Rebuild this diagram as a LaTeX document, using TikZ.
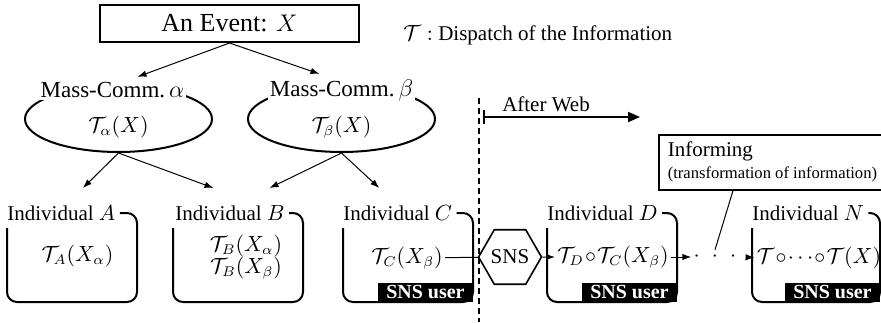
\documentclass[tikz,border=0pt]{standalone}
\usepackage[no-math]{fontspec}
\setmainfont{Liberation Serif}
\usepackage{amsmath,amssymb}
\usetikzlibrary{positioning,arrows.meta,shapes.geometric}

\newcommand{\tcirc}{\mkern1mu{\circ}\mkern1mu}

\tikzset{
  eventbox/.style={draw, line width=1pt, minimum width=129.5pt, minimum height=18.5pt, font=\fontsize{13}{15}\selectfont},
  massc/.style={draw, ellipse, line width=1pt, minimum width=93.5pt, minimum height=33pt, inner sep=0pt},
  masslab/.style={fill=white, inner sep=1pt, yshift=-2.5pt, font=\fontsize{11.5}{13}\selectfont},
  indlab/.style={inner sep=2pt, anchor=west},
  indbox/.style={line width=1pt, rounded corners=5pt},
  cnt/.style={inner sep=1pt},
  snsuser/.style={fill=black, text=white, font=\fontsize{10}{12}\selectfont\bfseries, inner xsep=4pt, inner ysep=0pt, minimum height=9.5pt, anchor=south east},
  snshex/.style={draw, regular polygon, regular polygon sides=6, minimum size=28pt, inner sep=0pt, line width=0.8pt},
  infobox/.style={draw, line width=0.8pt, align=flush left, text width=108pt, inner xsep=4.5pt, minimum height=27.5pt, anchor=north west},
  arr/.style={-{Latex[length=4.5pt,width=3.2pt]}, line width=0.5pt}
}

\begin{document}
\begin{tikzpicture}[x=0.5pt, y=-0.5pt, font=\fontsize{10.5}{12.6}\selectfont]
\useasboundingbox (0,0) rectangle (881,322);

\node[eventbox] (event) at (229.5,23.5) {An Event: $X$};
\node[anchor=west, inner sep=0pt] (dispatch) at (403,35) {$\mathcal{T}:$ Dispatch of the Information};

\node[massc] (massA) at (118.5,119) {};
\node[massc] (massB) at (341.5,119) {};
\node[cnt] (cntMA) at (118.5,127) {$\mathcal{T}_\alpha(X)$};
\node[cnt] (cntMB) at (341.5,127) {$\mathcal{T}_\beta(X)$};
\node[masslab, xshift=-3pt] (labMA) at (massA.north) {Mass-Comm.$\,\alpha$};
\node[masslab] (labMB) at (massB.north) {Mass-Comm.$\,\beta$};

\draw[arr] (event.south) -- ([shift={(25,-3)}]labMA.north);
\draw[arr] (event.south) -- ([shift={(-22,-3)}]labMB.north);

\node[indlab] (labA) at (3,213) {Individual $A$};
\node[indlab] (labB) at (171,213) {Individual $B$};
\node[indlab] (labC) at (339,213) {Individual $C$};
\node[indlab] (labD) at (543,213) {Individual $D$};
\node[indlab] (labN) at (748,213) {Individual $N$};

\foreach \n/\l/\r in {A/7/137, B/173/303, C/343/473, D/547/677, N/752/880} {
  \draw[indbox] (lab\n.east) -| (\r,302) -| (\l,228);
}
\foreach \n/\r in {C/473, D/677, N/880} {
  \node[snsuser] (user\n) at (\r,302) {SNS user};
}

\draw[arr] (massA.south) -- ([shift={(21.5,-13)}]labA.north);
\draw[arr] (massA.south) -- ([shift={(-16.5,-13)}]labB.north);
\draw[arr] (massB.south) -- ([shift={(39.5,-13)}]labB.north);
\draw[arr] (massB.south) -- ([shift={(-18.5,-13)}]labC.north);

\node[cnt] (cntA) at (77.5,256) {$\mathcal{T}_A(X_\alpha)$};
\node[cnt] (cntBa) at (246,246) {$\mathcal{T}_B(X_\alpha)$};
\node[cnt] (cntBb) at (246,268) {$\mathcal{T}_B(X_\beta)$};
\node[cnt] (cntC) at (407,258) {$\mathcal{T}_C(X_\beta)$};
\node[snshex] (sns) at (510,257) {SNS};
\node[cnt] (cntD) at (613,257) {$\mathcal{T}_D\tcirc\mathcal{T}_C(X_\beta)$};
\node[cnt] (dots) at (715,257) {${\cdot}\mkern10mu{\cdot}\mkern10mu{\cdot}$};
\node[cnt] (cntN) at (819,258) {$\mathcal{T}\tcirc{\cdots}\tcirc\mathcal{T}(X)$};

\draw[line width=0.5pt] (cntC) -- (sns);
\draw[arr] (sns) -- (cntD);
\draw[arr] (cntD) -- (dots);
\draw[arr, shorten <=5pt] (dots) -- (cntN);

\node[infobox] (inform) at (658,134) {Informing\\[-1.6pt]{\fontsize{8.3}{10}\selectfont(transformation of information)}};
\draw[line width=0.5pt] ([shift={(75,0)}]inform.south west) -- (dots.north);

\draw[line width=0.8pt, dash pattern=on 3pt off 2pt] (479,98) -- (479,322);
\draw[line width=1pt, {Bar[width=7pt]}-{Triangle[length=6pt,width=5pt]}] (483,117) -- (640,117);
\node (after) at (546,104) {After Web};
\end{tikzpicture}
\end{document}
